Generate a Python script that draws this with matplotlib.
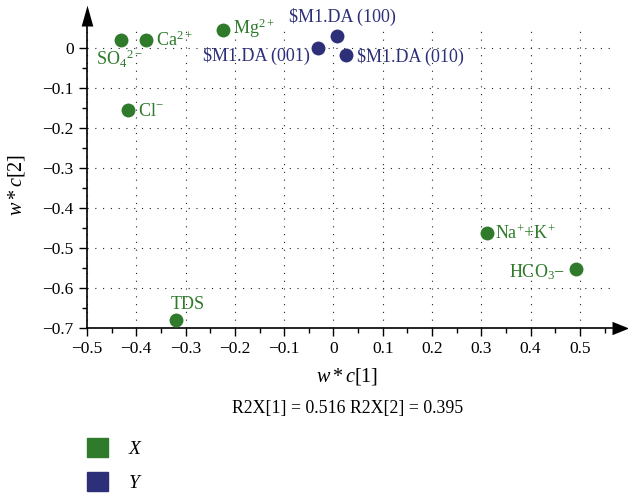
import matplotlib
matplotlib.use("Agg")
from matplotlib import pyplot as plt
from matplotlib.patches import Patch

plt.rcParams["font.family"] = "serif"
plt.rcParams["font.serif"] = ["Liberation Serif", "DejaVu Serif"]
plt.rcParams["mathtext.fontset"] = "custom"
plt.rcParams["mathtext.rm"] = "Liberation Serif"
plt.rcParams["mathtext.it"] = "Liberation Serif:italic"

GREEN = "#2f7a2b"
BLUE = "#2d3079"

x_names = ["SO$_4$$^{2-}$", "Ca$^{2+}$", "Mg$^{2+}$", "Cl$^{-}$", "Na$^{+}$+K$^{+}$", "HCO$_3$\u2212", "TDS"]
x_c1 = [-0.431, -0.380, -0.224, -0.417, 0.311, 0.492, -0.319]
x_c2 = [0.020, 0.020, 0.045, -0.155, -0.463, -0.553, -0.680]

y_names = [r"\$M1.DA (100)", r"\$M1.DA (001)", r"\$M1.DA (010)"]
y_c1 = [0.007, -0.031, 0.025]
y_c2 = [0.030, 0.000, -0.018]

# label offsets in points (dx, dy, ha, va)
x_offsets = [(-1, -6, "center", "top"), (7, 0, "left", "center"), (7, 1, "left", "center"),
             (7, -1, "left", "center"), (6, 0, "left", "center"), (-8, -2, "right", "center"),
             (8, 5, "center", "bottom")]
y_offsets = [(4, 7, "center", "bottom"), (-6, -6, "right", "center"), (8, -1, "left", "center")]

r2x = "R2X[1] = 0.516 R2X[2] = 0.395"

# long, narrow arrow heads for the axis ends
arrow_up = [(-0.14, 0), (0.14, 0), (0, 0.5), (-0.14, 0)]
arrow_right = [(0, -0.2), (0, 0.2), (0.5, 0), (0, -0.2)]


def main():
    fig = plt.figure(figsize=(6.28, 4.96), dpi=100)
    ax = fig.add_axes([0.1385, 0.3387, 0.836, 0.6089])

    ax.scatter(x_c1, x_c2, s=100, color=GREEN, zorder=3, linewidths=0, clip_on=False)
    ax.scatter(y_c1, y_c2, s=100, color=BLUE, zorder=3, linewidths=0, clip_on=False)

    for name, a, b, (dx, dy, ha, va) in zip(x_names, x_c1, x_c2, x_offsets):
        ax.annotate(name, (a, b), xytext=(dx, dy), textcoords="offset points",
                    ha=ha, va=va, color=GREEN, fontsize=13)
    for name, a, b, (dx, dy, ha, va) in zip(y_names, y_c1, y_c2, y_offsets):
        ax.annotate(name, (a, b), xytext=(dx, dy), textcoords="offset points",
                    ha=ha, va=va, color=BLUE, fontsize=13)

    ax.set_xlim(-0.5, 0.565)
    ax.set_ylim(-0.7, 0.055)
    ax.set_xticks([i / 10 for i in range(-5, 6)])
    ax.set_xticklabels(["\u22120.5", "\u22120.4", "\u22120.3", "\u22120.2", "\u22120.1", "0",
                        "0.1", "0.2", "0.3", "0.4", "0.5"])
    ax.set_yticks([-i / 10 for i in range(0, 8)])
    ax.set_yticklabels(["0", "\u22120.1", "\u22120.2", "\u22120.3", "\u22120.4", "\u22120.5",
                        "\u22120.6", "\u22120.7"])
    ax.set_xticks([i / 20 for i in range(-9, 12, 2)], minor=True)
    ax.set_yticks([-i / 20 for i in range(1, 14, 2)], minor=True)
    ax.tick_params(which="major", length=6, width=1, labelsize=12.5, direction="out")
    ax.tick_params(which="minor", length=3.5, width=1, direction="out")

    ax.grid(True, which="major", color="#222222", linewidth=0.8, linestyle=(0, (1, 6)))
    for side in ("top", "right"):
        ax.spines[side].set_visible(False)
    ax.spines["left"].set_linewidth(1.2)
    ax.spines["bottom"].set_linewidth(1.2)
    ax.plot(1, 0, marker=arrow_right, color="black", markersize=24, markeredgewidth=0,
            transform=ax.transAxes, clip_on=False)
    ax.plot(0, 1, marker=arrow_up, color="black", markersize=30, markeredgewidth=0,
            transform=ax.transAxes, clip_on=False)

    fig.text(0.553, 0.24, r"$w * c$[1]", ha="center", va="center", fontsize=14.5)
    fig.text(0.027, 0.627, r"$w * c$[2]", ha="center", va="center", fontsize=14.5, rotation=90)
    fig.text(0.553, 0.177, r2x, ha="center", va="center", fontsize=12.8)

    handles = [Patch(color=GREEN), Patch(color=BLUE)]
    fig.legend(handles, ["$X$", "$Y$"], loc="upper left", bbox_to_anchor=(0.1385, 0.117),
               frameon=False, fontsize=14, handlelength=1.1, handleheight=1.1,
               handletextpad=1.0, labelspacing=0.72, borderpad=0, borderaxespad=0)

    fig.savefig("out.png", dpi=100)


if __name__ == "__main__":
    main()
